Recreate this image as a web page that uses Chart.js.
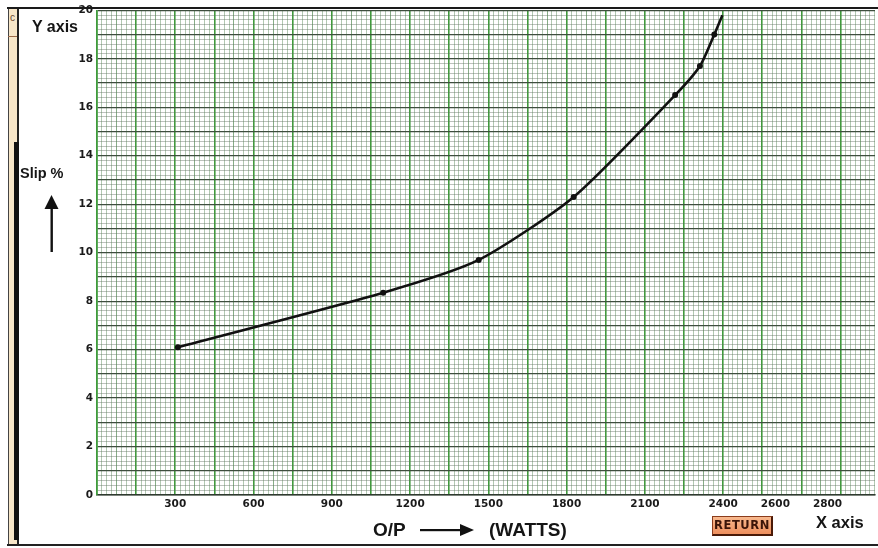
<!DOCTYPE html>
<html>
<head>
<meta charset="utf-8">
<script src="https://cdn.jsdelivr.net/npm/chart.js@4.4.1/dist/chart.umd.min.js"></script>
<style>
  html, body { margin: 0; padding: 0; background: #fff; }
  #wrap { position: relative; width: 878px; height: 548px; overflow: hidden; font-family: "Liberation Sans", Arial, sans-serif; }
  #chartBox { position: absolute; left: 0; top: 0; width: 878px; height: 548px; }
  .lbl { position: absolute; font-weight: bold; color: #151515; white-space: nowrap; line-height: 1; }
  .bar { position: absolute; }
  #btnReturn {
    position: absolute; left: 712px; top: 516px; width: 61px; height: 20px;
    background: linear-gradient(#f8b98e, #ee8f5e);
    border: 1px solid #8a3c1c; border-right: 2px solid #4a1a08; border-bottom: 2px solid #4a1a08;
    box-sizing: border-box; font: bold 11.5px "DejaVu Sans", sans-serif; color: #3a1408;
    letter-spacing: 0.6px; text-align: center; line-height: 17px;
  }
</style>
</head>
<body>
<div id="wrap">
  <div id="chartBox"><canvas id="slipChart" width="878" height="548"></canvas></div>

  <!-- рамка вокруг листа -->
  <div class="bar" style="left:7px;top:7px;width:871px;height:2px;background:#1a1a1a"></div>
  <div class="bar" style="left:8px;top:9px;width:8px;height:536px;background:#f7e6c8;border-left:1px solid #444"></div>
  <div class="bar" style="left:8px;top:36px;width:9px;height:1px;background:#9a6a48"></div>
  <div class="bar" style="left:17px;top:9px;width:2px;height:536px;background:#222"></div>
  <div class="bar" style="left:14px;top:142px;width:5px;height:398px;background:#111"></div>
  <div class="bar" style="left:7px;top:544px;width:871px;height:2px;background:#222"></div>
  <div class="lbl" style="left:10px;top:13px;font-size:10px;font-weight:normal;color:#6a4a30">c</div>

  <!-- подписи осей -->
  <div class="lbl" style="left:32px;top:19px;font-size:16px">Y axis</div>
  <div class="lbl" style="left:20px;top:166px;font-size:14.5px">Slip %</div>
  <svg class="bar" style="left:40px;top:192px" width="24" height="64">
    <polygon points="11.5,3 4.5,17 18.5,17" fill="#111"/>
    <rect x="10.5" y="15" width="2.4" height="45" fill="#111"/>
  </svg>

  <div class="lbl" style="left:373px;top:520px;font-size:19px">O/P</div>
  <svg class="bar" style="left:418px;top:522px" width="60" height="16">
    <rect x="2" y="7" width="44" height="2.2" fill="#111"/>
    <polygon points="42,2 56,8 42,14" fill="#111"/>
  </svg>
  <div class="lbl" style="left:489px;top:520px;font-size:19px">(WATTS)</div>

  <div id="btnReturn">RETURN</div>
  <div class="lbl" style="left:816px;top:514px;font-size:16.5px">X axis</div>
</div>

<script>
  // Данные кривой скольжения (O/P в ваттах, скольжение в %)
  const outputWatts = [310, 1097, 1463, 1827, 2216, 2311, 2366, 2397];
  const slipPercent = [6.1, 8.35, 9.7, 12.3, 16.5, 17.7, 19.0, 19.8];
  const markerSizes = [3, 3, 3, 3, 3, 3, 3, 0];

  // Подписи делений
  const xTickLabels = [300, 600, 900, 1200, 1500, 1800, 2100, 2400, 2600, 2800];
  const yTickLabels = [0, 2, 4, 6, 8, 10, 12, 14, 16, 18, 20];

  // Шаг сетки миллиметровки
  const xMinorStep = 18.75, xMajorStep = 150, xMax = 2982;
  const yMinorStep = 0.2, yMax = 20;

  const points = outputWatts.map((w, i) => ({ x: w, y: slipPercent[i] }));

  function isWhole(v, step) {
    return Math.abs(v / step - Math.round(v / step)) < 1e-6;
  }

  function xGridColor(v) {
    if (!isWhole(v, xMinorStep)) return 'rgba(0,0,0,0)'; // деление только для подписи
    if (isWhole(v, xMajorStep)) return '#3f9b3c';
    if (isWhole(v, xMajorStep / 2)) return 'rgba(70,130,70,0.65)';
    return 'rgba(85,135,85,0.45)';
  }

  const tickFont = { family: '"DejaVu Sans", sans-serif', size: 10.5, weight: 'bold' };

  const chart = new Chart(document.getElementById('slipChart'), {
    type: 'line',
    data: {
      datasets: [{
        data: points,
        borderColor: '#111',
        borderWidth: 2.6,
        backgroundColor: '#111',
        pointRadius: markerSizes,
        pointHoverRadius: markerSizes,
        pointBackgroundColor: '#111',
        pointBorderWidth: 0,
        tension: 0.22,
        fill: false
      }]
    },
    options: {
      responsive: false,
      animation: false,
      events: [],
      layout: { padding: { top: 9, right: 0, bottom: 0, left: 0 } },
      plugins: { legend: { display: false }, tooltip: { enabled: false } },
      scales: {
        x: {
          type: 'linear',
          min: 0,
          max: xMax,
          afterBuildTicks: scale => {
            const vals = [];
            for (let v = 0; v <= xMax; v += xMinorStep) vals.push(v);
            xTickLabels.forEach(v => { if (!isWhole(v, xMinorStep)) vals.push(v); });
            vals.sort((a, b) => a - b);
            scale.ticks = vals.map(v => ({ value: v }));
          },
          afterFit: scale => { scale.height = 53; },
          grid: {
            drawTicks: false,
            color: ctx => xGridColor(ctx.tick.value),
            lineWidth: ctx => isWhole(ctx.tick.value, xMajorStep) ? 1.6 : 1
          },
          border: { display: true, color: '#2f3a2f', width: 1.5 },
          ticks: {
            autoSkip: false,
            maxRotation: 0,
            padding: 3,
            color: '#1a1a1a',
            font: tickFont,
            callback: v => xTickLabels.includes(v) ? String(v) : ''
          }
        },
        y: {
          type: 'linear',
          min: 0,
          max: yMax,
          afterBuildTicks: scale => {
            const t = [];
            for (let i = 0; i <= Math.round(yMax / yMinorStep); i++) t.push({ value: +(i * yMinorStep).toFixed(1) });
            scale.ticks = t;
          },
          afterFit: scale => { scale.width = 97; },
          grid: {
            drawTicks: false,
            color: ctx => isWhole(ctx.tick.value, 1) ? '#3e4e3e' : 'rgba(95,110,95,0.42)',
            lineWidth: ctx => isWhole(ctx.tick.value, 1) ? 1.2 : 1
          },
          border: { display: true, color: '#3f9b3c', width: 1.6 },
          ticks: {
            autoSkip: false,
            padding: 4,
            color: '#1a1a1a',
            font: tickFont,
            callback: v => yTickLabels.includes(v) ? String(v) : ''
          }
        }
      }
    }
  });
</script>
</body>
</html>
